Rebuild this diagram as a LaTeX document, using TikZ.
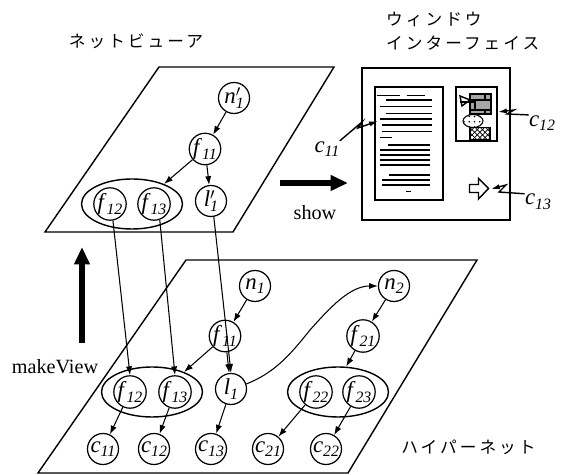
\documentclass[tikz,border=0pt]{standalone}
\usepackage{fontspec}
\setmainfont{Liberation Serif}
\newfontfamily\jpfont[LetterSpace=18]{Noto Sans CJK JP}
\usetikzlibrary{arrows.meta,positioning,patterns,shapes.geometric}
\newcommand{\lab}[2]{\textit{#1}\raisebox{-.45ex}{\fontsize{9}{9}\selectfont\textit{#2}}}
\tikzset{
	ball/.style={draw,circle,line width=.7pt,minimum size=.62cm,inner sep=0pt,font=\fontsize{13}{13}\selectfont},
	group/.style={draw,ellipse,line width=.8pt,minimum width=2.02cm,minimum height=1cm,inner sep=0pt},
	plane/.style={draw,line width=.8pt},
	link/.style={-{Latex[length=5pt,width=3.5pt]},line width=.6pt},
	bigarrow/.style={-{Triangle[length=.35cm,width=.3cm]},line width=.11cm},
	lead/.style={-{Latex[length=5pt,width=3pt]},line width=.8pt},
	jp/.style={font=\fontsize{9.5}{13.6}\selectfont\jpfont},
	tag/.style={font=\fontsize{11.5}{12}\selectfont},
	ctag/.style={inner sep=0pt,font=\fontsize{13}{13}\selectfont},
	panel/.style={draw,rectangle,line width=.8pt,inner sep=0pt},
	textline/.style={line width=.8pt}
}

\begin{document}
\begin{tikzpicture}
			\useasboundingbox (0,0) rectangle (11.28,9.5);
			\node[jp] (tview) at (2.72,8.68) {ネットビューア};
			\node[jp,align=left,anchor=west] (twin) at (7.6,8.88) {ウィンドウ\\インターフェイス};
			\node[jp] (thyper) at (9.37,.56) {ハイパーネット};

			\draw[plane] (3.18,8.16) -- (.9,4.86) -- (4.66,4.86) -- (6.68,8.16) -- cycle;
			\draw[plane] (3.72,4.3) -- (.76,.04) -- (6.96,.04) -- (9.54,4.3) -- cycle;

			\node[group] (vgroup) at (2.64,5.42) {};
			\node[ball] (vn1) at (4.68,7.54) {\lab{n\rlap{$'$}}{1}};
			\node[ball] (vf11) at (4.1,6.52) {\lab{f}{11}};
			\node[ball] (vf12) at (2.2,5.42) {\lab{f}{12}};
			\node[ball] (vf13) at (3.08,5.42) {\lab{f}{13}};
			\node[ball] (vl1) at (4.22,5.48) {\lab{l\rlap{$'$}}{1}};

			\node[group] (hgroupa) at (3.04,1.66) {};
			\node[group] (hgroupb) at (6.76,1.66) {};
			\node[ball] (hn1) at (5.1,3.78) {\lab{n}{1}};
			\node[ball] (hf11) at (4.5,2.78) {\lab{f}{11}};
			\node[ball] (hf12) at (2.6,1.66) {\lab{f}{12}};
			\node[ball] (hf13) at (3.5,1.66) {\lab{f}{13}};
			\node[ball] (hl1) at (4.62,1.72) {\lab{l}{1}};
			\node[ball] (hn2) at (7.88,3.78) {\lab{n}{2}};
			\node[ball] (hf21) at (7.26,2.78) {\lab{f}{21}};
			\node[ball] (hf22) at (6.32,1.66) {\lab{f}{22}};
			\node[ball] (hf23) at (7.18,1.66) {\lab{f}{23}};
			\node[ball] (hc11) at (2.06,.52) {\lab{c}{11}};
			\node[ball] (hc12) at (3.08,.52) {\lab{c}{12}};
			\node[ball] (hc13) at (4.22,.52) {\lab{c}{13}};
			\node[ball] (hc21) at (5.36,.52) {\lab{c}{21}};
			\node[ball] (hc22) at (6.52,.52) {\lab{c}{22}};

			\draw[link] (vn1) -- (vf11);
			\draw[link] (vf11) -- (vgroup.32);
			\draw[link] (vf11) -- (vl1);
			\draw[link] (vf12.-80) -- (hf12.north);
			\draw[link] (vf13.-70) -- (hf13.north);
			\draw[link] (vl1.-80) -- (hl1.north);

			\draw[link] (hn1) -- (hf11);
			\draw[link] (hf11) -- (hgroupa.32);
			\draw[link] (hf11) -- (hl1);
			\draw[link] (hf12) -- (hc11);
			\draw[link] (hf13) -- (hc12);
			\draw[link] (hl1) -- (hc13);
			\draw[link] (hn2) -- (hf21);
			\draw[link] (hf21) -- (hgroupb.72);
			\draw[link] (hf22) -- (hc21);
			\draw[link] (hf23) -- (hc22);
			\draw[link] (hl1.18) .. controls (5.5,2.05) and (5.8,2.4) .. (6.2,2.9) .. controls (6.6,3.35) and (7,3.78) .. (hn2.west);

			\node[tag] (show) at (6.3,5.24) {show};
			\node[tag] (mkview) at (1.1,2.16) {makeView};
			\coordinate (showa) at (5.6,5.84);
			\coordinate (showb) at (6.96,5.84);
			\coordinate (mka) at (1.64,2.64);
			\coordinate (mkb) at (1.64,4.56);
			\draw[bigarrow] (showa) -- (showb);
			\draw[bigarrow] (mka) -- (mkb);

			\node[panel,minimum width=2.96cm,minimum height=3.04cm] (win) at (8.72,6.62) {};
			\node[panel,minimum width=1.36cm,minimum height=2.26cm] (doc) at (8.18,6.63) {};
			\node[panel,minimum width=.82cm,minimum height=1.08cm] (pic) at (9.53,7.22) {};

			\foreach \xa/\xb/\yy in {7.53/8/7.59,8.13/8.5/7.59,7.72/8.63/7.5,7.6/8.63/7.37,7.72/8.63/7.23,7.6/8.63/7.12,7.63/8.63/7,7.63/8.63/6.87,7.6/7.83/6.75,7.75/8.6/6.6,7.6/8.6/6.5,7.6/8.6/6.4,7.6/8.6/6.3,7.6/8.6/6.2,7.77/8.6/6,7.63/8.6/5.9,7.63/8.6/5.8,8.12/8.21/5.67}
				\draw[textline] (\xa,\yy) -- (\xb,\yy);

			\draw[fill=black!35,postaction={pattern=bricks},line width=.7pt] (9.4,7.62) rectangle (9.82,7.22);
			\draw[fill=white,line width=.8pt] (9.2,7.58) -- (9.4,7.5) -- (9.24,7.38) -- cycle;
			\draw[line width=.6pt] (9.2,7.46) -- (9.5,7.46);
			\draw[pattern=dots,line width=.6pt] (9.46,7.08) ellipse (.2 and .13);
			\draw[pattern=crosshatch,line width=.7pt] (9.4,6.95) rectangle (9.8,6.7);
			\draw[line width=.8pt] (9.39,5.81) -- (9.57,5.81) -- (9.57,5.93) -- (9.77,5.73) -- (9.57,5.52) -- (9.57,5.65) -- (9.39,5.65) -- cycle;

			\node[ctag] (cl11) at (6.54,6.52) {\lab{c}{11}};
			\node[ctag] (cl12) at (10.84,7.04) {\lab{c}{12}};
			\node[ctag] (cl13) at (10.76,5.46) {\lab{c}{13}};
			\coordinate (cp11) at (7.56,7.08);
			\coordinate (cp12) at (9.96,7.26);
			\coordinate (cp13) at (9.82,5.72);

			\draw[lead] (cl11.north east) -- (7.24,7.06) -- (7.16,6.94) -- (cp11);
			\draw[lead] (cl12.north west) -- (10.14,7.22) -- (10.28,7.3) -- (cp12);
			\draw[lead] (cl13.north west) -- (9.98,5.66) -- (10.12,5.8) -- (cp13);
		\end{tikzpicture}
\end{document}
